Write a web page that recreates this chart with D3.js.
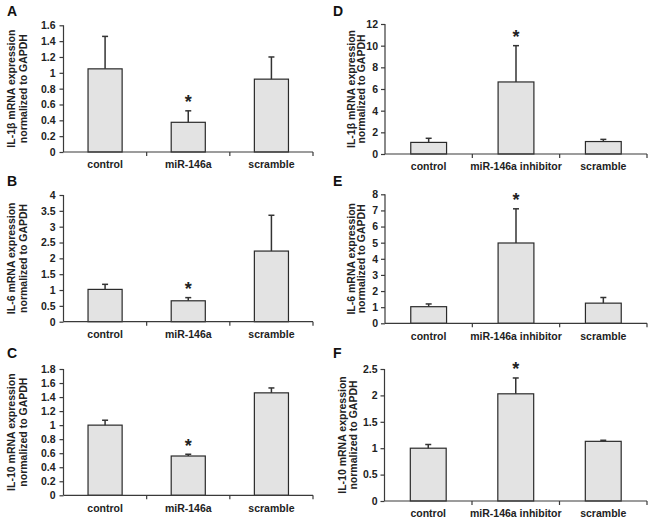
<!DOCTYPE html>
<html><head><meta charset="utf-8">
<script src="https://cdn.jsdelivr.net/npm/d3@7"></script>
<style>
html,body{margin:0;padding:0;background:#fff;}
svg{display:block;font-family:"Liberation Sans",Arial,sans-serif;}
</style></head>
<body>
<svg id="chart" width="654" height="521"></svg>
<script>
// ---- data ----
const catsLeft = ["control", "miR-146a", "scramble"];
const catsRight = ["control", "miR-146a inhibitor", "scramble"];

const il1bMimic = [1.05, 0.375, 0.92];
const il1bMimicSD = [0.41, 0.145, 0.28];
const il6Mimic = [1.02, 0.66, 2.23];
const il6MimicSD = [0.16, 0.10, 1.13];
const il10Mimic = [1.00, 0.56, 1.46];
const il10MimicSD = [0.07, 0.025, 0.07];

const il1bInhib = [1.07, 6.65, 1.15];
const il1bInhibSD = [0.38, 3.35, 0.2];
const il6Inhib = [1.03, 4.98, 1.25];
const il6InhibSD = [0.17, 2.12, 0.35];
const il10Inhib = [1.00, 2.03, 1.13];
const il10InhibSD = [0.07, 0.30, 0.02];

const sigA = [false, true, false];
const sigD = [false, true, false];

const ticksA = [0, 0.2, 0.4, 0.6, 0.8, 1, 1.2, 1.4, 1.6];
const ticksB = [0, 0.5, 1, 1.5, 2, 2.5, 3, 3.5, 4];
const ticksC = [0, 0.2, 0.4, 0.6, 0.8, 1, 1.2, 1.4, 1.6, 1.8];
const ticksD = [0, 2, 4, 6, 8, 10, 12];
const ticksE = [0, 1, 2, 3, 4, 5, 6, 7, 8];
const ticksF = [0, 0.5, 1, 1.5, 2, 2.5];

const labelsY = [
  ["IL-1β mRNA expression", "normalized to GAPDH"],
  ["IL-6 mRNA expression", "normalized to GAPDH"],
  ["IL-10 mRNA expression", "normalized to GAPDH"]
];
const panelLetters = ["A", "B", "C", "D", "E", "F"];

// ---- layout ----
const geom = {
  A: {x0: 63.5, x1: 313, lab1: 11, lab2: 22.5, letterX: 7, y0: 152, yTop: 25.3, letterY: 16, pad: 4},
  B: {x0: 63.5, x1: 313, lab1: 11, lab2: 22.5, letterX: 7, y0: 321.7, yTop: 195, letterY: 186, pad: 4},
  C: {x0: 63.5, x1: 313, lab1: 11, lab2: 22.5, letterX: 7, y0: 495.3, yTop: 369, letterY: 358, pad: 4},
  D: {x0: 385, x1: 647, lab1: 350.5, lab2: 361, letterX: 333, y0: 154, yTop: 24, letterY: 16, pad: 3},
  E: {x0: 385, x1: 647, lab1: 350.5, lab2: 361, letterX: 333, y0: 323.3, yTop: 194.3, letterY: 186, pad: 3},
  F: {x0: 384.5, x1: 647, lab1: 342, lab2: 353, letterX: 333, y0: 501, yTop: 369, letterY: 358, pad: 3}
};

const panels = [
  {letter: panelLetters[0], cats: catsLeft, vals: il1bMimic, sd: il1bMimicSD, ticks: ticksA, sig: sigA, lab: labelsY[0]},
  {letter: panelLetters[1], cats: catsLeft, vals: il6Mimic, sd: il6MimicSD, ticks: ticksB, sig: sigA, lab: labelsY[1]},
  {letter: panelLetters[2], cats: catsLeft, vals: il10Mimic, sd: il10MimicSD, ticks: ticksC, sig: sigA, lab: labelsY[2]},
  {letter: panelLetters[3], cats: catsRight, vals: il1bInhib, sd: il1bInhibSD, ticks: ticksD, sig: sigD, lab: labelsY[0]},
  {letter: panelLetters[4], cats: catsRight, vals: il6Inhib, sd: il6InhibSD, ticks: ticksE, sig: sigD, lab: labelsY[1]},
  {letter: panelLetters[5], cats: catsRight, vals: il10Inhib, sd: il10InhibSD, ticks: ticksF, sig: sigD, lab: labelsY[2]}
];

const svg = d3.select("#chart");
const fmt = d => String(+d.toFixed(2));
const axisColor = "#3a3a3a";
const FONT = "Liberation Sans, Arial, sans-serif";

panels.forEach(p => {
  const r = geom[p.letter];
  const g = svg.append("g");
  const y = d3.scaleLinear().domain([0, p.ticks[p.ticks.length - 1]]).range([r.y0, r.yTop]);
  const x = d3.scaleBand().domain(p.cats).range([r.x0, r.x1]).padding(0);
  const bw = x.bandwidth() * 0.41;

  // bars
  g.selectAll("rect.bar").data(p.vals).enter().append("rect")
    .attr("x", (d, i) => x(p.cats[i]) + x.bandwidth() / 2 - bw / 2)
    .attr("y", d => y(d))
    .attr("width", bw)
    .attr("height", d => y(0) - y(d))
    .attr("fill", "#e3e3e3")
    .attr("stroke", "#2a2a2a")
    .attr("stroke-width", 1.2);

  // error bars (upper only)
  p.vals.forEach((v, i) => {
    const cx = x(p.cats[i]) + x.bandwidth() / 2;
    const top = y(v + p.sd[i]);
    g.append("line").attr("x1", cx).attr("x2", cx).attr("y1", y(v)).attr("y2", top)
      .attr("stroke", "#333").attr("stroke-width", 1.5);
    g.append("line").attr("x1", cx - 3).attr("x2", cx + 3).attr("y1", top).attr("y2", top)
      .attr("stroke", "#333").attr("stroke-width", 1.5);
    if (p.sig[i]) {
      g.append("text").attr("x", cx).attr("y", top - 12.5 + 10)
        .attr("text-anchor", "middle").attr("font-size", 18).attr("font-weight", "bold")
        .attr("fill", "#222").text("*");
    }
  });

  // y axis
  const ya = d3.axisLeft(y).tickValues(p.ticks).tickSize(4).tickPadding(r.pad).tickFormat(fmt);
  const yg = g.append("g").attr("transform", `translate(${r.x0},0)`).call(ya);
  yg.select(".domain").attr("d", `M0,${r.y0}V${r.yTop}`).attr("stroke", axisColor).attr("stroke-width", 1.2);
  yg.selectAll(".tick line").attr("stroke", axisColor).attr("stroke-width", 1.2);
  yg.selectAll(".tick text").attr("font-size", 10.5).attr("font-weight", "bold").attr("fill", "#222")
    .attr("font-family", FONT);

  // x axis
  const xa = d3.axisBottom(x).tickSize(0).tickPadding(9);
  const xg = g.append("g").attr("transform", `translate(0,${r.y0})`).call(xa);
  xg.select(".domain").attr("d", `M${r.x0},0H${r.x1}`).attr("stroke", axisColor).attr("stroke-width", 1.2);
  xg.selectAll(".tick text").attr("font-size", 10.5).attr("font-weight", "bold").attr("fill", "#222")
    .attr("font-family", FONT);
  // boundary ticks
  p.cats.forEach(cat => {
    const bx = x(cat) + x.bandwidth();
    g.append("line").attr("x1", bx).attr("x2", bx).attr("y1", r.y0).attr("y2", r.y0 + 4)
      .attr("stroke", axisColor).attr("stroke-width", 1.2);
  });

  // y label
  const cy = (r.y0 + r.yTop) / 2;
  [r.lab1, r.lab2].forEach((lx, k) => {
    g.append("text").attr("transform", `translate(${lx},${cy}) rotate(-90)`)
      .attr("text-anchor", "middle").attr("dominant-baseline", "central")
      .attr("font-size", 10.5).attr("font-weight", "bold").attr("fill", "#222")
      .text(p.lab[k]);
  });

  // panel letter
  g.append("text").attr("x", r.letterX).attr("y", r.letterY)
    .attr("font-size", 14).attr("font-weight", "bold").attr("fill", "#111").text(p.letter);
});
</script>
</body></html>
